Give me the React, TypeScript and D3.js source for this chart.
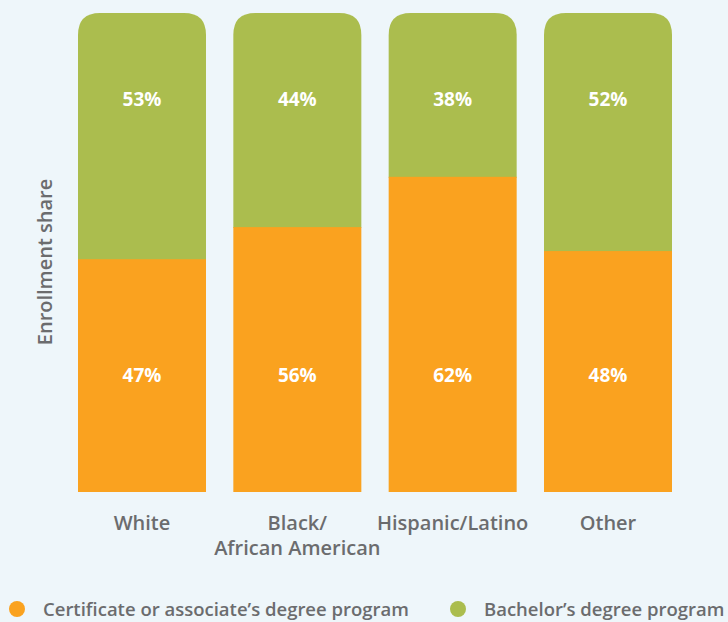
import React, { useEffect, useRef } from "react";
import * as d3 from "d3";

// categories shown on the x axis (split lines for wrapped labels)
const categories = ["White", "Black/African American", "Hispanic/Latino", "Other"];
const categoryLines = [["White"], ["Black/", "African American"], ["Hispanic/Latino"], ["Other"]];

// share of enrollment in certificate / associate's programs (bar heights as drawn)
const certShare = [0.486, 0.553, 0.658, 0.503];
// printed labels
const certLabels = ["47%", "56%", "62%", "48%"];
const bachLabels = ["53%", "44%", "38%", "52%"];

const seriesNames = ["Certificate or associate\u2019s degree program", "Bachelor\u2019s degree program"];

const ORANGE = "#faa21f";
const GREEN = "#abbd4e";
const TEXT = "#6b6c6e";
const BG = "#eef6fa";

export default function App() {
  const svgRef = useRef<SVGSVGElement>(null);

  useEffect(() => {
    const width = 728;
    const height = 622;
    const svg = d3.select(svgRef.current);
    svg.selectAll("*").remove();
    svg.attr("width", width).attr("height", height);

    const font = "'Open Sans', 'Noto Sans', sans-serif";

    svg.append("rect").attr("width", width).attr("height", height).attr("fill", BG);

    const x = d3.scaleBand().domain(categories).range([78, 672]).paddingInner(0.176).paddingOuter(0);
    const y = d3.scaleLinear().domain([0, 1]).range([492, 13]);
    const bw = x.bandwidth();
    const r = 22;

    const bars = svg
      .append("g")
      .selectAll("g")
      .data(categories)
      .join("g")
      .attr("transform", (d) => `translate(${x(d)},0)`);

    // bachelor's segment (top, rounded)
    bars
      .append("path")
      .attr("fill", GREEN)
      .attr("d", (_, i) => {
        const top = y(1);
        const bot = y(certShare[i]) + 1;
        return `M0,${bot} V${top + r} Q0,${top} ${r},${top} H${bw - r} Q${bw},${top} ${bw},${top + r} V${bot} Z`;
      });

    // certificate segment (bottom)
    bars
      .append("rect")
      .attr("fill", ORANGE)
      .attr("x", 0)
      .attr("width", bw)
      .attr("y", (_, i) => y(certShare[i]))
      .attr("height", (_, i) => y(0) - y(certShare[i]));

    // value labels
    bars
      .append("text")
      .attr("x", bw / 2)
      .attr("y", y(0.82) + 7)
      .attr("text-anchor", "middle")
      .attr("fill", "#fff")
      .style("font-family", font)
      .style("font-weight", 700)
      .style("font-size", "19px")
      .text((_, i) => bachLabels[i]);

    bars
      .append("text")
      .attr("x", bw / 2)
      .attr("y", y(0.245) + 7)
      .attr("text-anchor", "middle")
      .attr("fill", "#fff")
      .style("font-family", font)
      .style("font-weight", 700)
      .style("font-size", "19px")
      .text((_, i) => certLabels[i]);

    // category labels
    const cat = svg
      .append("g")
      .selectAll("text")
      .data(categories)
      .join("text")
      .attr("x", (d) => (x(d) || 0) + bw / 2)
      .attr("y", 530)
      .attr("text-anchor", "middle")
      .attr("fill", TEXT)
      .style("font-family", font)
      .style("font-weight", 600)
      .style("font-size", "20px");
    cat
      .selectAll("tspan")
      .data((_, i) => categoryLines[i])
      .join("tspan")
      .attr("x", function () {
        return (this.parentNode as SVGTextElement).getAttribute("x");
      })
      .attr("dy", (_, j) => (j === 0 ? 0 : 25))
      .text((t) => t);

    // y axis title
    svg
      .append("text")
      .attr("transform", `translate(52,${262}) rotate(-90)`)
      .attr("text-anchor", "middle")
      .attr("fill", TEXT)
      .style("font-family", font)
      .style("font-weight", 600)
      .style("font-size", "20px")
      .text("Enrollment share");

    // legend
    const legendX = [17, 458];
    const colors = [ORANGE, GREEN];
    const lg = svg
      .append("g")
      .selectAll("g")
      .data(seriesNames)
      .join("g")
      .attr("transform", (_, i) => `translate(${legendX[i]},609)`);
    lg.append("circle").attr("r", 8).attr("fill", (_, i) => colors[i]);
    lg.append("text")
      .attr("x", 26)
      .attr("y", 7)
      .attr("fill", TEXT)
      .style("font-family", font)
      .style("font-weight", 600)
      .style("font-size", "18.5px")
      .text((d) => d);
  }, []);

  return (
    <div style={{ position: "fixed", left: 0, top: 0, width: 728, height: 622, background: BG }}>
      <svg ref={svgRef} style={{ display: "block" }}></svg>
    </div>
  );
}
